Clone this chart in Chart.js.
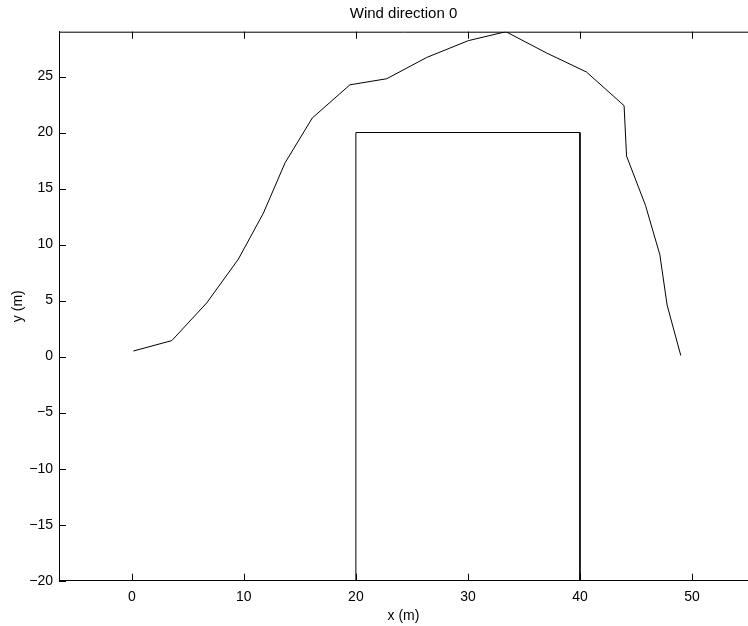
<!DOCTYPE html>
<html>
<head>
<meta charset="utf-8">
<script src="https://cdn.jsdelivr.net/npm/chart.js@4"></script>
<style>
  body { margin: 0; background: #fff; }
</style>
</head>
<body>
<canvas id="wind" width="748" height="626"></canvas>
<script>
// path of the plume for wind direction 0
const pathX = [0.14, 3.57, 6.69, 9.51, 11.74, 13.68, 16.11, 19.47, 22.75, 26.32, 30.03, 33.39, 37.02, 40.59, 43.94, 44.16, 45.85, 47.13, 47.78, 49.0];
const pathY = [0.5, 1.43, 4.8, 8.7, 12.8, 17.3, 21.3, 24.26, 24.8, 26.7, 28.2, 29.0, 27.1, 25.4, 22.4, 17.9, 13.5, 9.1, 4.6, 0.1];

// building outline
const buildingX = [20, 20, 40, 40];
const buildingY = [-20, 20, 20, -20];

const xTicks = [0, 10, 20, 30, 40, 50];
const yTicks = [-20, -15, -10, -5, 0, 5, 10, 15, 20, 25];

const toPoints = (xs, ys) => xs.map((x, i) => ({ x: x, y: ys[i] }));
const FONT = 'Liberation Sans, Arial, Helvetica, sans-serif';

// top border + inward ticks, like the matlab axes box
const boxTicks = {
  id: 'boxTicks',
  afterDatasetsDraw(chart) {
    const { ctx, chartArea: a, scales } = chart;
    const len = 7;
    ctx.save();
    ctx.strokeStyle = '#000';
    ctx.lineWidth = 1;
    ctx.beginPath();
    ctx.moveTo(a.left, a.top + 0.5);
    ctx.lineTo(a.right, a.top + 0.5);
    xTicks.forEach(v => {
      const px = Math.round(scales.x.getPixelForValue(v)) + 0.5;
      ctx.moveTo(px, a.bottom);
      ctx.lineTo(px, a.bottom - len);
      ctx.moveTo(px, a.top);
      ctx.lineTo(px, a.top + len);
    });
    yTicks.forEach(v => {
      const py = Math.round(scales.y.getPixelForValue(v)) + 0.5;
      ctx.moveTo(a.left, py);
      ctx.lineTo(a.left + len, py);
    });
    ctx.stroke();
    ctx.restore();
  }
};

new Chart(document.getElementById('wind'), {
  type: 'scatter',
  data: {
    datasets: [
      {
        data: toPoints(pathX, pathY),
        showLine: true,
        borderColor: '#000',
        borderWidth: 1,
        pointRadius: 0
      },
      {
        data: toPoints(buildingX, buildingY),
        showLine: true,
        borderColor: '#000',
        borderWidth: 1,
        pointRadius: 0
      }
    ]
  },
  plugins: [boxTicks],
  options: {
    responsive: false,
    animation: false,
    layout: { padding: 0 },
    plugins: {
      legend: { display: false },
      tooltip: { enabled: false },
      title: {
        display: true,
        fullSize: false, // centre over the plot area, not the canvas
        text: 'Wind direction 0',
        color: '#000',
        font: { family: FONT, size: 15, weight: 'normal' },
        padding: { top: 4.5, bottom: 9.2 }
      }
    },
    scales: {
      x: {
        type: 'linear',
        min: -6.5,
        max: 55,
        afterFit: (s) => { s.height = 45.3; },
        afterBuildTicks: (s) => { s.ticks = xTicks.map(v => ({ value: v })); },
        grid: { display: false, drawTicks: false },
        border: { display: true, color: '#000', width: 1 },
        ticks: {
          color: '#000',
          padding: 8,
          maxRotation: 0,
          font: { family: FONT, size: 14 }
        },
        title: {
          display: true,
          text: 'x (m)',
          color: '#000',
          font: { family: FONT, size: 14 },
          padding: { top: 0, bottom: 1 }
        }
      },
      y: {
        type: 'linear',
        min: -20,
        max: 29,
        afterFit: (s) => { s.width = 59; },
        afterBuildTicks: (s) => { s.ticks = yTicks.map(v => ({ value: v })); },
        grid: { display: false, drawTicks: false },
        border: { display: true, color: '#000', width: 1 },
        ticks: {
          color: '#000',
          padding: 6,
          font: { family: FONT, size: 14 },
          callback: (v) => String(v).replace('-', '\u2212')
        },
        title: {
          display: true,
          text: 'y (m)',
          color: '#000',
          font: { family: FONT, size: 14 },
          padding: { top: 10, bottom: 10 }
        }
      }
    }
  }
});
</script>
</body>
</html>
